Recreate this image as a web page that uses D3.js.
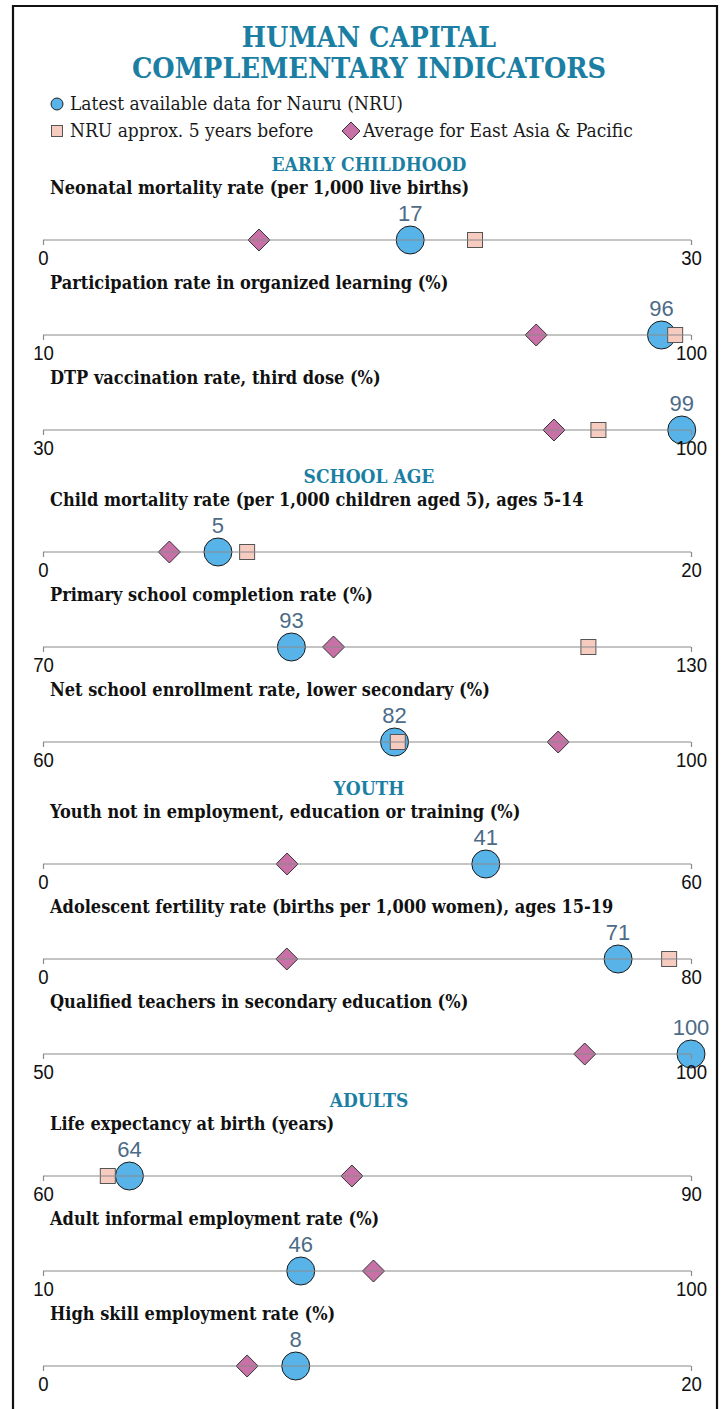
<!DOCTYPE html>
<html>
<head>
<meta charset="utf-8">
<script src="https://cdn.jsdelivr.net/npm/d3@7"></script>
<style>
  body { margin: 0; background: #fff; }
</style>
</head>
<body>
<div id="chart"></div>
<script>
// data
var sections = ["EARLY CHILDHOOD", "SCHOOL AGE", "YOUTH", "ADULTS"];
var indicators = [
    "Neonatal mortality rate (per 1,000 live births)",
    "Participation rate in organized learning (%)",
    "DTP vaccination rate, third dose (%)",
    "Child mortality rate (per 1,000 children aged 5), ages 5-14",
    "Primary school completion rate (%)",
    "Net school enrollment rate, lower secondary (%)",
    "Youth not in employment, education or training (%)",
    "Adolescent fertility rate (births per 1,000 women), ages 15-19",
    "Qualified teachers in secondary education (%)",
    "Life expectancy at birth (years)",
    "Adult informal employment rate (%)",
    "High skill employment rate (%)"
];
var sectionOf = [0, 0, 0, 1, 1, 1, 2, 2, 2, 3, 3, 3];
var axisMin = [0, 10, 30, 0, 70, 60, 0, 0, 50, 60, 10, 0];
var axisMax = [30, 100, 100, 20, 130, 100, 60, 80, 100, 90, 100, 20];
var latest = [17, 95.9, 99, 5.4, 93, 81.7, 41, 71, 100, 64, 45.8, 7.8];
var before = [20, 97.8, 90, 6.3, 120.5, 81.9, null, 77.3, null, 63, null, null];
var eapAvg = [10, 78.5, 85.2, 3.9, 96.9, 91.8, 22.6, 30.1, 91.8, 74.3, 55.9, 6.3];
var legendLabels = [
    "Latest available data for Nauru (NRU)",
    "NRU approx. 5 years before",
    "Average for East Asia & Pacific"
];

var width = 722, height = 1409;
var teal = "#1b7fa3";
var blue = "#58b4e8", pink = "#f6cbc0", purple = "#c771a7";
var serif = "'DejaVu Serif Condensed', 'DejaVu Serif', serif";
var sans = "'Liberation Sans', Arial, sans-serif";

var svg = d3.select("#chart").append("svg")
    .attr("width", width)
    .attr("height", height);

// squeeze text horizontally (condensed look)
function condense(sel, k) {
    sel.each(function () {
        var w = this.getComputedTextLength();
        d3.select(this).attr("textLength", w * k).attr("lengthAdjust", "spacingAndGlyphs");
    });
}

// frame, open at the bottom
svg.append("path")
    .attr("d", "M13," + height + "V6H717V" + height)
    .attr("fill", "none")
    .attr("stroke", "#111")
    .attr("stroke-width", 2.2);

// title
var title = svg.append("g").attr("class", "title");
title.selectAll("text")
    .data(["HUMAN CAPITAL", "COMPLEMENTARY INDICATORS"])
    .join("text")
    .attr("x", 369)
    .attr("y", function (d, i) { return 47 + i * 31; })
    .attr("text-anchor", "middle")
    .attr("fill", teal)
    .attr("font-family", serif)
    .attr("font-weight", "bold")
    .attr("font-size", "28.5px")
    .text(function (d) { return d; });

// legend
var legend = svg.append("g").attr("class", "legend");
legend.append("circle")
    .attr("cx", 57).attr("cy", 104).attr("r", 6)
    .attr("fill", blue).attr("stroke", "#222");
legend.append("rect")
    .attr("x", 51.5).attr("y", 125.5).attr("width", 11).attr("height", 11)
    .attr("fill", pink).attr("stroke", "#555");
legend.append("path")
    .attr("d", "M0,-9L9,0L0,9L-9,0Z")
    .attr("transform", "translate(351,131)")
    .attr("fill", purple).attr("stroke", "#333");
var legendPos = [[70, 110], [70, 137], [363, 137]];
legend.selectAll("text")
    .data(legendLabels)
    .join("text")
    .attr("x", function (d, i) { return legendPos[i][0]; })
    .attr("y", function (d, i) { return legendPos[i][1]; })
    .attr("fill", "#1a1a1a")
    .attr("font-family", serif)
    .attr("font-size", "19px")
    .text(function (d) { return d; });

// rows
var rowY = function (i) { return 240 + i * 95 + sectionOf[i] * 27; };
var fmt = d3.format(".0f");

// section headers
svg.append("g").attr("class", "sections")
    .selectAll("text")
    .data(sections)
    .join("text")
    .attr("x", 369)
    .attr("y", function (d, s) { return rowY(sectionOf.indexOf(s)) - 69; })
    .attr("text-anchor", "middle")
    .attr("fill", teal)
    .attr("font-family", serif)
    .attr("font-weight", "bold")
    .attr("font-size", "19px")
    .text(function (d) { return d; });

indicators.forEach(function (name, i) {
    var y0 = rowY(i);
    var x = d3.scaleLinear().domain([axisMin[i], axisMax[i]]).range([43, 691]);
    var g = svg.append("g").attr("class", "row");

    g.append("text")
        .attr("x", 50)
        .attr("y", y0 - 46)
        .attr("fill", "#111")
        .attr("font-family", serif)
        .attr("font-weight", "bold")
        .attr("font-size", "18px")
        .text(name);

    // markers
    g.append("circle")
        .attr("cx", x(latest[i]))
        .attr("cy", y0)
        .attr("r", 14)
        .attr("fill", blue)
        .attr("stroke", "#1a1a1a");
    if (before[i] != null) {
        g.append("rect")
            .attr("x", x(before[i]) - 7.5)
            .attr("y", y0 - 7.5)
            .attr("width", 15)
            .attr("height", 15)
            .attr("fill", pink)
            .attr("stroke", "#555");
    }
    g.append("path")
        .attr("d", "M0,-11L11,0L0,11L-11,0Z")
        .attr("transform", "translate(" + x(eapAvg[i]) + "," + y0 + ")")
        .attr("fill", purple)
        .attr("stroke", "#333");

    // axis drawn over the markers
    var axis = d3.axisBottom(x)
        .tickValues([axisMin[i], axisMax[i]])
        .tickSize(5)
        .tickPadding(6)
        .tickFormat(fmt);
    var ga = g.append("g")
        .attr("transform", "translate(0," + y0 + ")")
        .call(axis);
    ga.select(".domain")
        .attr("d", "M43,0H691")
        .attr("stroke", "#8a8a8a")
        .attr("stroke-width", 1.2);
    ga.selectAll(".tick line").attr("stroke", "#8a8a8a").attr("stroke-width", 1.2);
    ga.selectAll(".tick text")
        .attr("fill", "#111")
        .attr("font-family", sans)
        .attr("font-size", "20px")
        .call(condense, 0.93);

    g.append("text")
        .attr("x", x(latest[i]))
        .attr("y", y0 - 19)
        .attr("text-anchor", "middle")
        .attr("fill", "#4d6b86")
        .attr("font-family", sans)
        .attr("font-size", "22px")
        .text(fmt(latest[i]));
});
</script>
</body>
</html>
